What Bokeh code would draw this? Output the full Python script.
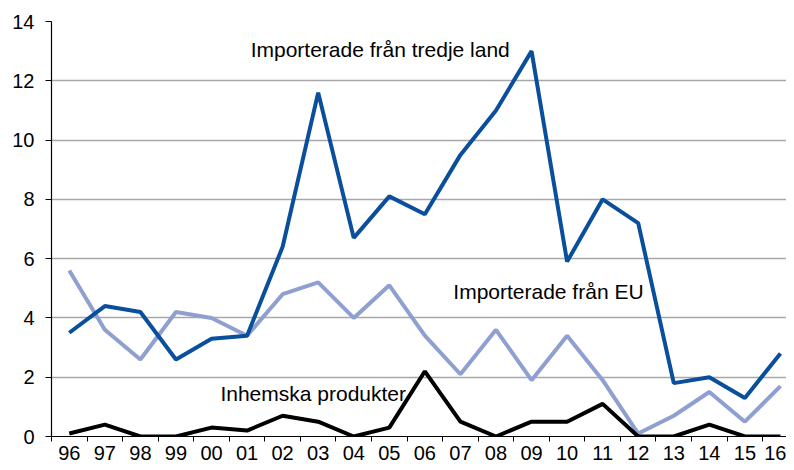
from bokeh.plotting import figure
from bokeh.models import Range1d, FixedTicker, Grid
from bokeh.core.properties import value
from bokeh.embed import file_html
from bokeh.resources import INLINE

years = ["96", "97", "98", "99", "00", "01", "02", "03", "04", "05", "06",
         "07", "08", "09", "10", "11", "12", "13", "14", "15", "16"]
tredje_land = [3.5, 4.4, 4.2, 2.6, 3.3, 3.4, 6.4, 11.6, 6.7, 8.1, 7.5,
               9.5, 11.0, 13.0, 5.9, 8.0, 7.2, 1.8, 2.0, 1.3, 2.8]
fran_eu = [5.6, 3.6, 2.6, 4.2, 4.0, 3.4, 4.8, 5.2, 4.0, 5.1, 3.4,
           2.1, 3.6, 1.9, 3.4, 1.9, 0.1, 0.7, 1.5, 0.5, 1.7]
inhemska = [0.1, 0.4, 0.0, 0.0, 0.3, 0.2, 0.7, 0.5, 0.0, 0.3, 2.2,
            0.5, 0.0, 0.5, 0.5, 1.1, 0.0, 0.0, 0.4, 0.0, 0.0]
y_ticks = [0, 2, 4, 6, 8, 10, 12, 14]

labels = ["Importerade från tredje land", "Importerade från EU", "Inhemska produkter"]
label_x = [5.1, 10.8, 4.25]
label_y = [13.05, 4.9, 1.45]

FONT = "Liberation Sans"
DARK = "#0a4f9c"
LIGHT = "#8e9fd0"

xs = list(range(len(years)))

p = figure(width=786, height=462, output_backend="svg", toolbar_location=None,
           x_range=Range1d(-0.5, 20.17), y_range=Range1d(0, 14),
           min_border_left=51, min_border_right=0, min_border_top=21,
           min_border_bottom=0)
p.outline_line_color = None
p.background_fill_color = "white"
p.border_fill_color = "white"

# grids
p.xgrid.visible = False
p.ygrid.ticker = FixedTicker(ticks=y_ticks[:-1])
p.ygrid.grid_line_color = "#a8a8a8"
p.ygrid.grid_line_width = 1.5
top = Grid(dimension=1, ticker=FixedTicker(ticks=[y_ticks[-1]]),
           grid_line_color="#505050", grid_line_width=1.5)
p.add_layout(top)

# y axis
p.yaxis.ticker = FixedTicker(ticks=y_ticks)
p.yaxis.axis_line_color = "black"
p.yaxis.axis_line_width = 1.2
p.yaxis.major_tick_line_color = "black"
p.yaxis.major_tick_out = 6
p.yaxis.major_tick_in = 0
p.yaxis.minor_tick_line_color = None
p.yaxis.major_label_standoff = 11
p.yaxis.major_label_text_font = FONT
p.yaxis.major_label_text_font_size = "20px"
p.yaxis.major_label_text_color = "black"

# x axis
p.xaxis.ticker = FixedTicker(ticks=xs, minor_ticks=[i - 0.5 for i in xs])
p.xaxis.major_label_overrides = {i: y for i, y in enumerate(years)}
p.xaxis.axis_line_color = "black"
p.xaxis.axis_line_width = 1.2
p.xaxis.major_tick_out = 0
p.xaxis.major_tick_in = 0
p.xaxis.minor_tick_out = 5
p.xaxis.minor_tick_in = 0
p.xaxis.minor_tick_line_color = "black"
p.xaxis.major_label_standoff = 4
p.xaxis.major_label_text_font = FONT
p.xaxis.major_label_text_font_size = "20px"
p.xaxis.major_label_text_color = "black"

p.line(xs, fran_eu, line_color=LIGHT, line_width=4)
p.line(xs, tredje_land, line_color=DARK, line_width=4)
p.line(xs, inhemska, line_color="black", line_width=4)

p.text(label_x, label_y, text=labels, text_font=value(FONT),
       text_font_size="21px", text_align="left", text_baseline="middle",
       text_color="black")

open("out.html", "w").write(file_html(p, INLINE))
